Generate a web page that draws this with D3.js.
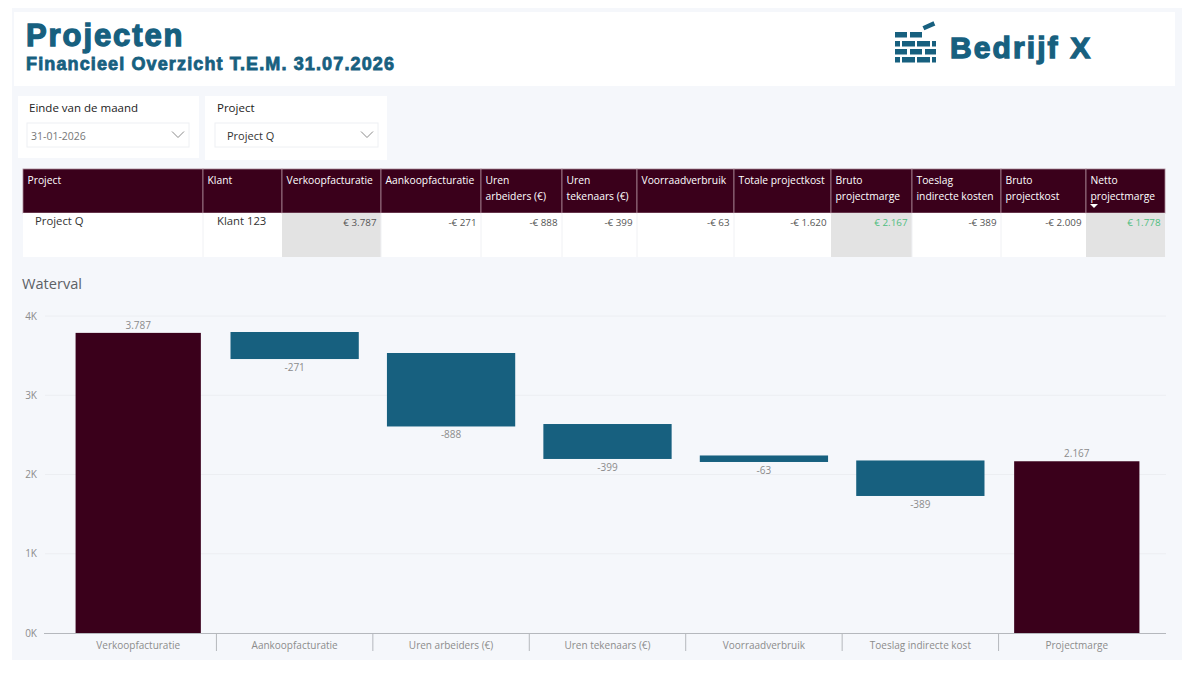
<!DOCTYPE html>
<html>
<head>
<meta charset="utf-8">
<title>Projecten</title>
<script src="https://cdnjs.cloudflare.com/ajax/libs/d3/7.8.5/d3.min.js"></script>
<style>
  html, body { margin: 0; padding: 0; background: #fff; }
  svg { display: block; }
  text { font-family: "Open Sans", sans-serif; }
  .brand { font-family: "Liberation Sans", Arial, sans-serif; font-weight: 700; fill: #17607f; stroke: #17607f; paint-order: stroke; }
</style>
</head>
<body>
<div id="chart"></div>
<script>
// waterfall data
const categories = ['Verkoopfacturatie', 'Aankoopfacturatie', 'Uren arbeiders (€)', 'Uren tekenaars (€)', 'Voorraadverbruik', 'Toeslag indirecte kost', 'Projectmarge'];
const barKinds = ['total', 'delta', 'delta', 'delta', 'delta', 'delta', 'total'];
const barHigh = [3787, 3798, 3533, 2637, 2240, 2177, 2167];
const barLow = [0, 3457, 2606, 2196, 2158, 1729, 0];
const barLabels = ['3.787', '-271', '-888', '-399', '-63', '-389', '2.167'];
const yTicks = [0, 1000, 2000, 3000, 4000];

// table data
const tableHeaders = [['Project'], ['Klant'], ['Verkoopfacturatie'], ['Aankoopfacturatie'], ['Uren', 'arbeiders (€)'], ['Uren', 'tekenaars (€)'], ['Voorraadverbruik'], ['Totale projectkost'], ['Bruto', 'projectmarge'], ['Toeslag', 'indirecte kosten'], ['Bruto', 'projectkost'], ['Netto', 'projectmarge']];
const tableRow = ['Project Q', 'Klant 123', '€ 3.787', '-€ 271', '-€ 888', '-€ 399', '-€ 63', '-€ 1.620', '€ 2.167', '-€ 389', '-€ 2.009', '€ 1.778'];
const greyColumns = [2, 8, 11];
const greenColumns = [8, 11];
const tableEdges = [23, 203, 282, 381, 481, 562, 637, 734, 831, 912, 1001, 1086, 1165];

const slicers = [
    { title: 'Einde van de maand', value: '31-01-2026', x: 18, w: 181, h: 62, titleX: 29, boxX: 27, boxW: 162, valueX: 31, valueFill: '#777', size: 10.5 },
    { title: 'Project', value: 'Project Q', x: 205, w: 182, h: 64, titleX: 217, boxX: 215, boxW: 163, valueX: 227, valueFill: '#333', size: 11 }
];

const blue = '#17607f';
const maroon = '#3a001b';

const svg = d3.select('#chart').append('svg').attr('width', 1200).attr('height', 675);

// background panels
svg.append('rect').attr('x', 12).attr('y', 8).attr('width', 1170).attr('height', 652).attr('fill', '#f5f7fb');
svg.append('rect').attr('x', 14).attr('y', 12).attr('width', 1161).attr('height', 74).attr('fill', '#fff');

// header
svg.append('text').attr('class', 'brand').attr('x', 26).attr('y', 46)
    .attr('font-size', 31).attr('stroke-width', 1.3).attr('letter-spacing', 1.9).text('Projecten');
svg.append('text').attr('class', 'brand').attr('x', 26).attr('y', 70)
    .attr('font-size', 18).attr('stroke-width', 0.8).attr('letter-spacing', 1.13).text('Financieel Overzicht T.E.M. 31.07.2026');
svg.append('text').attr('class', 'brand').attr('x', 950).attr('y', 58)
    .attr('font-size', 30).attr('stroke-width', 1.3).attr('letter-spacing', 2.1).text('Bedrijf X');

// logo: rows of bricks plus the loose one on top
const logo = svg.append('g').attr('fill', blue);
const brickRows = [
    { y: 32, parts: [[895, 12], [910, 12]] },
    { y: 41, parts: [[895, 5], [902, 13], [917, 13], [932, 4]] },
    { y: 49, parts: [[895, 12], [910, 12], [925, 11]] },
    { y: 57, parts: [[895, 5], [902, 13], [917, 13], [932, 4]] }
];
brickRows.forEach(row => {
    row.parts.forEach(p => {
        logo.append('rect').attr('x', p[0]).attr('y', row.y).attr('width', p[1]).attr('height', 5.5);
    });
});
logo.append('rect').attr('x', 923).attr('y', 23.5).attr('width', 12).attr('height', 4.5)
    .attr('transform', 'rotate(-24 929 26)');

// slicers
slicers.forEach(s => {
    const g = svg.append('g');
    g.append('rect').attr('x', s.x).attr('y', 96).attr('width', s.w).attr('height', s.h).attr('fill', '#fff');
    g.append('text').attr('x', s.titleX).attr('y', 112).attr('font-size', 11.5).attr('fill', '#222').text(s.title);
    g.append('rect').attr('x', s.boxX).attr('y', 123).attr('width', s.boxW).attr('height', 24)
        .attr('fill', '#fff').attr('stroke', '#eef0f3');
    g.append('text').attr('x', s.valueX).attr('y', 139.5).attr('font-size', s.size).attr('fill', s.valueFill).text(s.value);
    const cx = s.boxX + s.boxW - 11;
    g.append('path').attr('d', d3.line()([[cx - 6, 131.5], [cx, 137.5], [cx + 6, 131.5]]))
        .attr('fill', 'none').attr('stroke', '#8b8b8b').attr('stroke-width', 1);
});

// table
const table = svg.append('g');
const columns = tableHeaders.map((lines, i) => ({
    lines: lines,
    value: tableRow[i],
    x0: tableEdges[i],
    x1: tableEdges[i + 1],
    grey: greyColumns.includes(i),
    green: greenColumns.includes(i),
    index: i
}));

const col = table.selectAll('g').data(columns).enter().append('g');
col.append('rect').attr('x', d => d.x0).attr('y', 169).attr('width', d => d.x1 - d.x0).attr('height', 44)
    .attr('fill', maroon).attr('stroke', '#a98595').attr('stroke-width', 0.8);
col.append('rect').attr('x', d => d.x0).attr('y', 213).attr('width', d => d.x1 - d.x0).attr('height', 44)
    .attr('fill', d => d.grey ? '#e3e3e3' : '#fff');
col.filter(d => !d.grey && d.index > 0).append('line')
    .attr('x1', d => d.x0).attr('x2', d => d.x0).attr('y1', 213).attr('y2', 257)
    .attr('stroke', '#f0f1f4');
col.each(function(d) {
    d3.select(this).selectAll('text.head').data(d.lines).enter().append('text')
        .attr('class', 'head')
        .attr('x', d.x0 + 4.5)
        .attr('y', (line, i) => 184 + i * 15.5)
        .attr('font-family', '"Noto Sans", sans-serif')
        .attr('font-size', 10.3)
        .attr('fill', '#fff')
        .text(line => line);
});
col.filter(d => d.index > 1).append('text')
    .attr('x', d => d.x1 - 4.5).attr('y', 226).attr('text-anchor', 'end')
    .attr('font-size', 9.8)
    .attr('fill', d => d.green ? '#4fbd80' : '#555')
    .text(d => d.value);
col.filter(d => d.index <= 1).append('text')
    .attr('x', d => d.x0 + (d.index === 0 ? 12 : 14)).attr('y', 225)
    .attr('font-size', 11.3).attr('fill', '#333')
    .text(d => d.value);
// sort marker under the last header
table.append('path').attr('d', d3.line()([[1090, 204], [1098, 204], [1094, 208]]) + 'Z').attr('fill', '#fff');

// waterfall
svg.append('text').attr('x', 22).attr('y', 289).attr('font-size', 14.6).attr('fill', '#5c6166').text('Waterval');

const xScale = d3.scaleBand().domain(categories).range([60, 1155]).paddingInner(0.18).paddingOuter(0.09);
const yScale = d3.scaleLinear().domain([0, 4000]).range([633, 316]);

// gridlines
svg.append('g').selectAll('line').data(yTicks.slice(1)).enter().append('line')
    .attr('x1', 45).attr('x2', 1166)
    .attr('y1', d => yScale(d)).attr('y2', d => yScale(d))
    .attr('stroke', '#eceef2');

const yAxis = svg.append('g').attr('transform', 'translate(40,0)')
    .call(d3.axisLeft(yScale).tickValues(yTicks).tickSize(0).tickFormat(d => (d / 1000) + 'K'));
yAxis.select('.domain').remove();
yAxis.selectAll('text').attr('font-family', '"Open Sans", sans-serif').attr('font-size', 10).attr('fill', '#8c8c8c').attr('x', -3);

// end bars are a little narrower than the steps
const barInset = d => d.kind === 'total' ? 1.5 : 0;
const bars = categories.map((name, i) => ({ name: name, kind: barKinds[i], high: barHigh[i], low: barLow[i], label: barLabels[i] }));

svg.append('g').selectAll('rect').data(bars).enter().append('rect')
    .attr('x', d => xScale(d.name) + barInset(d))
    .attr('width', d => xScale.bandwidth() - 2 * barInset(d))
    .attr('y', d => yScale(d.high))
    .attr('height', d => yScale(d.low) - yScale(d.high))
    .attr('fill', d => d.kind === 'total' ? maroon : blue);

svg.append('g').selectAll('text').data(bars).enter().append('text')
    .attr('x', d => xScale(d.name) + xScale.bandwidth() / 2)
    .attr('y', d => d.kind === 'total' ? yScale(d.high) - 4 : yScale(d.low) + 12)
    .attr('text-anchor', 'middle')
    .attr('font-size', 10)
    .attr('fill', '#8c8c8c')
    .text(d => d.label);

const xAxis = svg.append('g').attr('transform', 'translate(0,633)')
    .call(d3.axisBottom(xScale).tickSize(0).tickPadding(9));
xAxis.select('.domain').remove();
xAxis.selectAll('text').attr('font-family', '"Open Sans", sans-serif').attr('font-size', 10).attr('fill', '#8c8c8c');
svg.append('line').attr('x1', 44).attr('x2', 1166).attr('y1', 633.5).attr('y2', 633.5).attr('stroke', '#b5b8bd').attr('stroke-width', 1.2);

// separators between the categories
svg.append('g').selectAll('line').data(categories.slice(1)).enter().append('line')
    .attr('x1', d => xScale(d) - xScale.step() * xScale.paddingInner() / 2)
    .attr('x2', d => xScale(d) - xScale.step() * xScale.paddingInner() / 2)
    .attr('y1', 633).attr('y2', 651)
    .attr('stroke', '#b5b8bd');
</script>
</body>
</html>
